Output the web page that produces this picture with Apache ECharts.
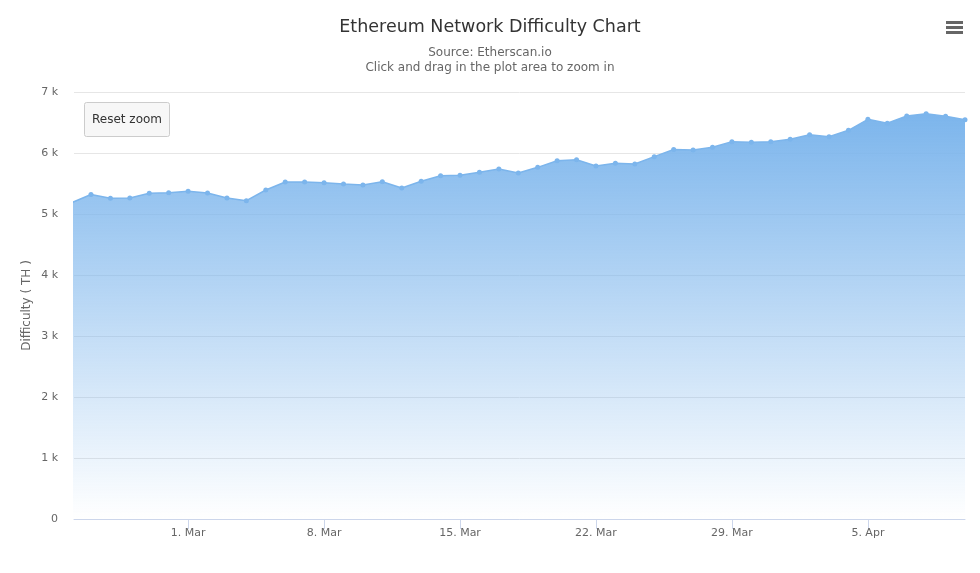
<!DOCTYPE html>
<html>
<head>
<meta charset="utf-8">
<title>Ethereum Network Difficulty Chart</title>
<script src="https://cdn.jsdelivr.net/npm/echarts@6/dist/echarts.min.js"></script>
<style>
    html, body { margin: 0; padding: 0; background: #fff; }
    #chart { width: 980px; height: 573px; }
</style>
</head>
<body>
<div id="chart"></div>
<script>
// daily difficulty, TH
const days = [
    '2021-02-23', '2021-02-24', '2021-02-25', '2021-02-26', '2021-02-27', '2021-02-28',
    '2021-03-01', '2021-03-02', '2021-03-03', '2021-03-04', '2021-03-05', '2021-03-06',
    '2021-03-07', '2021-03-08', '2021-03-09', '2021-03-10', '2021-03-11', '2021-03-12',
    '2021-03-13', '2021-03-14', '2021-03-15', '2021-03-16', '2021-03-17', '2021-03-18',
    '2021-03-19', '2021-03-20', '2021-03-21', '2021-03-22', '2021-03-23', '2021-03-24',
    '2021-03-25', '2021-03-26', '2021-03-27', '2021-03-28', '2021-03-29', '2021-03-30',
    '2021-03-31', '2021-04-01', '2021-04-02', '2021-04-03', '2021-04-04', '2021-04-05',
    '2021-04-06', '2021-04-07', '2021-04-08', '2021-04-09', '2021-04-10'
];
const difficulty = [
    5185, 5320, 5257, 5262, 5339, 5350,
    5372, 5344, 5262, 5218, 5393, 5525,
    5525, 5514, 5492, 5475, 5530, 5426,
    5536, 5628, 5634, 5683, 5738, 5672,
    5765, 5874, 5890, 5787, 5831, 5820,
    5940, 6058, 6049, 6093, 6186, 6175,
    6186, 6224, 6300, 6268, 6372, 6552,
    6487, 6607, 6644, 6601, 6546
];
const tickDays = ['2021-03-01', '2021-03-08', '2021-03-15', '2021-03-22', '2021-03-29', '2021-04-05'];
const months = ['Jan', 'Feb', 'Mar', 'Apr', 'May', 'Jun', 'Jul', 'Aug', 'Sep', 'Oct', 'Nov', 'Dec'];

const DAY = 86400000;
const origin = Date.UTC(2021, 1, 23);
function toTime(s) {
    const p = s.split('-').map(Number);
    return Date.UTC(p[0], p[1] - 1, p[2]);
}
// x position in days since Feb 23
const dayNo = s => Math.round((toTime(s) - origin) / DAY);
function dayLabel(n) {
    const d = new Date(origin + Math.round(n) * DAY);
    return d.getUTCDate() + '. ' + months[d.getUTCMonth()];
}

const font = '"DejaVu Sans", "Noto Sans", sans-serif';
const blue = '#7cb5ec';
const tickValues = tickDays.map(dayNo);
const subStyle = { fontFamily: font, fontSize: 12, fontWeight: 'normal', color: '#666666' };

const chart = echarts.init(document.getElementById('chart'));
chart.setOption({
    animation: false,
    textStyle: { fontFamily: font },
    title: [{
        text: 'Ethereum Network Difficulty Chart',
        left: 'center',
        top: 13,
        textStyle: { fontFamily: font, fontSize: 17.5, fontWeight: 'normal', color: '#333333' }
    }, {
        text: 'Source: Etherscan.io',
        left: 'center',
        top: 47,
        padding: 0,
        textStyle: subStyle
    }, {
        text: 'Click and drag in the plot area to zoom in',
        left: 'center',
        top: 62,
        padding: 0,
        textStyle: subStyle
    }],
    grid: { left: 74, right: 15, top: 92, bottom: 54, containLabel: false },
    xAxis: {
        type: 'value',
        min: 1 - 21 / 24,
        max: dayNo('2021-04-10'),
        axisLine: { lineStyle: { color: '#ccd6eb' } },
        axisTick: { show: true, customValues: tickValues, length: 10, lineStyle: { color: '#ccd6eb' } },
        axisLabel: {
            customValues: tickValues,
            color: '#666666',
            fontSize: 11,
            fontFamily: font,
            margin: 9,
            formatter: dayLabel
        },
        splitLine: { show: false }
    },
    yAxis: {
        type: 'value',
        min: 0,
        max: 7000,
        interval: 1000,
        name: 'Difficulty ( TH )',
        nameLocation: 'middle',
        nameGap: 41,
        nameMoveOverlap: false,
        nameTextStyle: { color: '#666666', fontSize: 12, fontFamily: font },
        axisLine: { show: false },
        axisTick: { show: false },
        axisLabel: {
            color: '#666666',
            fontSize: 11,
            fontFamily: font,
            margin: 16,
            formatter: v => v === 0 ? '0' : (v / 1000) + ' k'
        },
        splitLine: { lineStyle: { color: '#e6e6e6' } }
    },
    series: [{
        type: 'line',
        data: days.map((d, i) => [dayNo(d), difficulty[i]]),
        symbol: 'circle',
        symbolSize: 5,
        showAllSymbol: true,
        clip: true,
        itemStyle: { color: blue },
        lineStyle: { color: blue, width: 1.5 },
        areaStyle: {
            opacity: 1,
            color: new echarts.graphic.LinearGradient(0, 0, 0, 1, [
                { offset: 0, color: 'rgba(124,181,236,1)' },
                { offset: 1, color: 'rgba(124,181,236,0)' }
            ])
        }
    }],
    graphic: [{
        type: 'group',
        left: 84,
        top: 102,
        children: [{
            type: 'rect',
            shape: { x: 0, y: 0, width: 85, height: 34, r: 2 },
            style: { fill: '#f7f7f7', stroke: '#cccccc', lineWidth: 1 }
        }, {
            type: 'text',
            x: 42.5,
            y: 17,
            style: {
                text: 'Reset zoom',
                fill: '#333333',
                font: '12px ' + font,
                align: 'center',
                verticalAlign: 'middle'
            }
        }]
    }, {
        type: 'group',
        right: 17,
        top: 21,
        children: [0, 5, 10].map(dy => ({
            type: 'rect',
            shape: { x: 0, y: dy, width: 17, height: 3 },
            style: { fill: '#666666' }
        }))
    }]
});
</script>
</body>
</html>
